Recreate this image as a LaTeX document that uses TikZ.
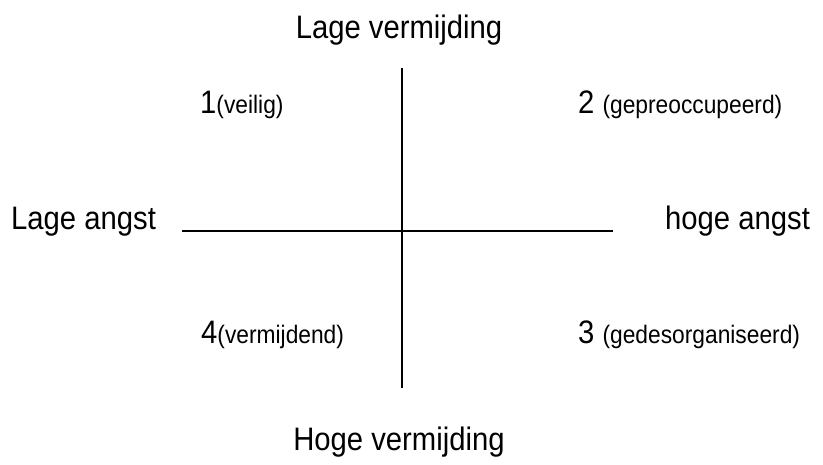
\documentclass[tikz,border=0pt]{standalone}
\usepackage{fontspec}
\setmainfont[FakeStretch=0.9]{Liberation Sans}
\newcommand{\bigtxt}{\fontsize{32.5}{36}\selectfont}
\newcommand{\smalltxt}{\fontsize{25.3}{28}\selectfont}
\begin{document}
\begin{tikzpicture}[x=1pt,y=-1pt,
  lbl/.style={anchor=base west,inner sep=0pt,font=\bigtxt},
  axis/.style={line width=2pt,black}]
\useasboundingbox (0,0) rectangle (823,464);
\node[lbl,anchor=base] (top) at (399,38) {Lage vermijding};
\node[lbl,anchor=base] (bottom) at (399,450) {Hoge vermijding};
\node[lbl] (left) at (11,229) {Lage angst};
\node[lbl] (right) at (665,229) {hoge angst};
\node[lbl] (q1) at (200,113) {1{\smalltxt(veilig)}};
\node[lbl] (q2) at (578,113) {2 {\smalltxt(gepreoccupeerd)}};
\node[lbl] (q4) at (201,343) {4{\smalltxt(vermijdend)}};
\node[lbl] (q3) at (578,343) {3 {\smalltxt(gedesorganiseerd)}};
\coordinate (hl) at (182,231);
\coordinate (hr) at (613,231);
\coordinate (vt) at (401.5,68);
\coordinate (vb) at (401.5,388);
\draw[axis] (hl) -- (hr);
\draw[axis] (vt) -- (vb);
\end{tikzpicture}
\end{document}
